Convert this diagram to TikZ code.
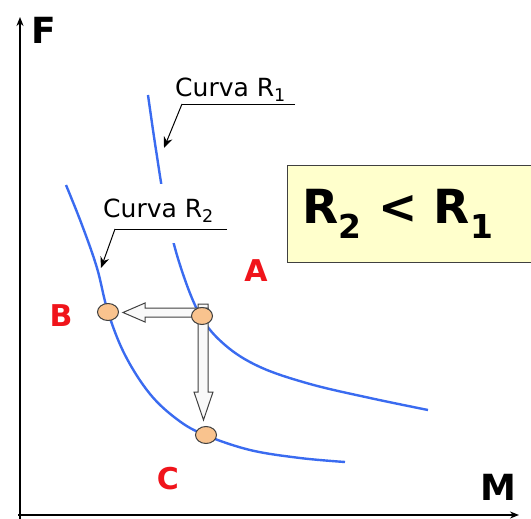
\documentclass[tikz,border=0pt]{standalone}
\usepackage{fontspec}
\setmainfont{DejaVu Sans}
\usetikzlibrary{arrows.meta,shapes.geometric}
\definecolor{curveblue}{HTML}{3A6BF0}
\definecolor{dotfill}{HTML}{F9C38E}
\definecolor{boxfill}{HTML}{FFFFCC}
\definecolor{lblred}{HTML}{F0141B}
\definecolor{edgegray}{HTML}{404040}
\begin{document}
\begin{tikzpicture}[x=1pt,y=-1pt,
  axis/.style={line width=2pt,-{Stealth[length=9pt,width=7pt]}},
  curve/.style={curveblue,line width=2.4pt},
  dot/.style={ellipse,draw=edgegray,line width=1pt,fill=dotfill,minimum width=21pt,minimum height=17pt,inner sep=0pt},
  blockarrow/.style={draw=edgegray,line width=1pt,fill=gray!5},
  leader/.style={line width=1pt,-{Stealth[length=11pt,width=9pt]}},
  curvelabel/.style={font=\fontsize{25}{28}\selectfont,inner sep=0pt,anchor=base west},
  redlbl/.style={text=lblred,font=\fontsize{30}{32}\selectfont\bfseries,inner sep=0pt},
  axlbl/.style={font=\fontsize{36}{38}\selectfont\bfseries,inner sep=0pt}]
\useasboundingbox (0,0) rectangle (531,519);
% axes
\coordinate (O) at (20,515);
\coordinate (Ftop) at (20,17);
\coordinate (Mend) at (519,515);
\draw[axis] (20,519) -- (Ftop);
\draw[axis] (18,515) -- (Mend);
\node[axlbl] (F) at (44,30) {F};
\node[axlbl] (M) at (498,487) {M};
% curves
\draw[curve] plot[smooth,tension=0.6] coordinates {(148,95) (156,150) (166,210) (180,265) (200,315) (225,345) (260,367) (310,384) (370,398) (428,410)};
\draw[curve] plot[smooth,tension=0.6] coordinates {(66,185) (82,225) (97,268) (108,312) (125,355) (150,394) (178,420) (205,435) (250,450) (300,458) (345,462)};
% curve labels
\node[curvelabel] (c1) at (175,97) {Curva R\textsubscript{1}};
\coordinate (u1a) at (182,104);
\coordinate (u1b) at (295,104);
\coordinate (t1) at (164,148);
\draw[line width=0.9pt] (u1b) -- (u1a);
\draw[leader] (u1a) -- (t1);
\fill[white] (98,184) rectangle (232,243);
\node[curvelabel] (c2) at (103,218) {Curva R\textsubscript{2}};
\coordinate (u2a) at (115,229);
\coordinate (u2b) at (227,229);
\coordinate (t2) at (101,268);
\draw[line width=0.9pt] (u2b) -- (u2a);
\draw[leader] (u2a) -- (t2);
% box
\node[draw=edgegray,line width=1.2pt,fill=boxfill,minimum width=250pt,minimum height=97pt,anchor=north west,inner sep=0pt] (box) at (287,165) {};
\node[font=\fontsize{47}{50}\selectfont\bfseries,anchor=base west,inner sep=0pt] (ineq) at (302,223) {R\textsubscript{2} < R\textsubscript{1}};
% block arrows
\draw[blockarrow] (198,304) -- (198,392) -- (194,392) -- (203.5,420) -- (213,392) -- (208,392) -- (208,304) -- cycle;
\draw[blockarrow] (208,308) -- (145,308) -- (145,303) -- (123,312.5) -- (145,322) -- (145,317) -- (208,317) -- cycle;
% dots
\node[dot] (B) at (108,312) {};
\node[dot] (P) at (202,316) {};
\node[dot] (C) at (206,435) {};
% red labels
\node[redlbl] (la) at (256,271) {A};
\node[redlbl] (lb) at (61,316) {B};
\node[redlbl] (lc) at (168,479) {C};
\end{tikzpicture}
\end{document}
